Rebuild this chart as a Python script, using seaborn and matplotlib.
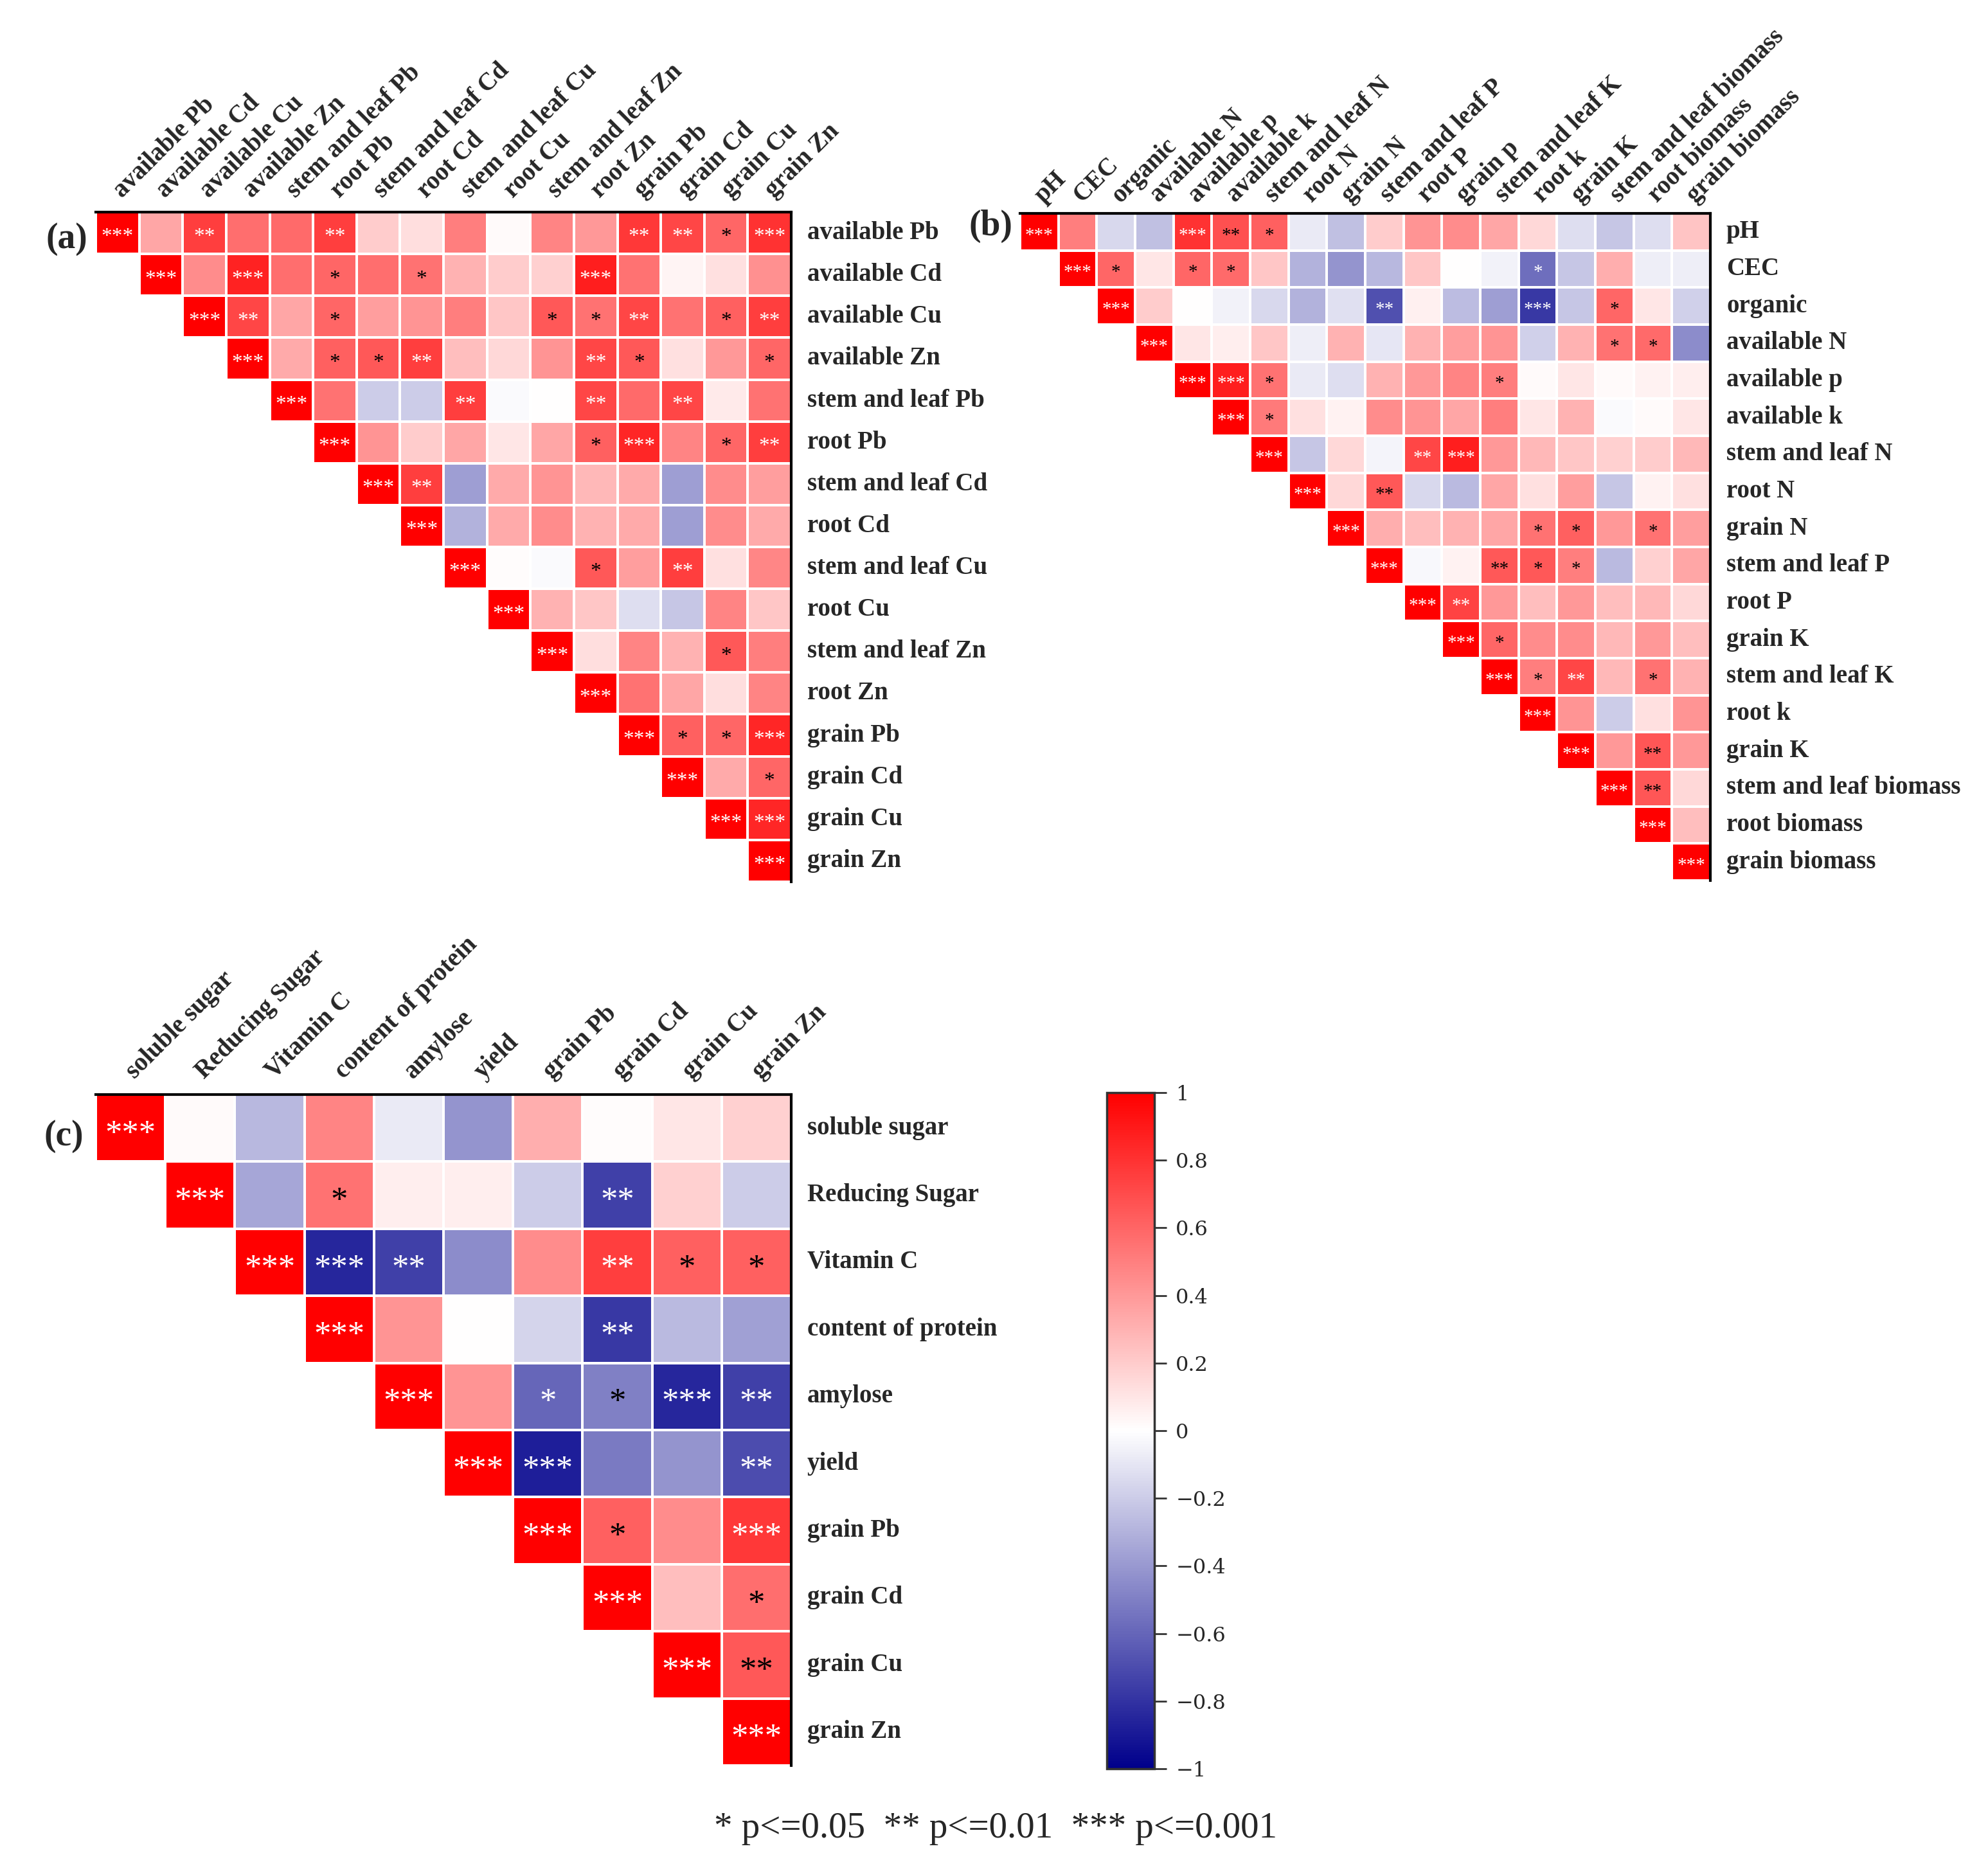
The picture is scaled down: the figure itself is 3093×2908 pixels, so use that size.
import numpy as np
import pandas as pd
import matplotlib
matplotlib.use('Agg')
import matplotlib.pyplot as plt
import matplotlib.transforms as mtransforms
from matplotlib.colors import LinearSegmentedColormap
import seaborn as sns

sns.set_style('white')
plt.rcParams['font.family'] = ['Liberation Serif', 'DejaVu Serif']

# ---- panel (a): heavy metals in soil and plant parts ----
labels_a = ['available Pb', 'available Cd', 'available Cu', 'available Zn',
            'stem and leaf Pb', 'root Pb', 'stem and leaf Cd', 'root Cd',
            'stem and leaf Cu', 'root Cu', 'stem and leaf Zn', 'root Zn',
            'grain Pb', 'grain Cd', 'grain Cu', 'grain Zn']
# upper triangle, each row starts at the diagonal
r_a = [
    [1, 0.35, 0.75, 0.57, 0.58, 0.75, 0.2, 0.13, 0.5, 0.02, 0.48, 0.4, 0.78, 0.72, 0.6, 0.8],
    [1, 0.45, 0.86, 0.57, 0.6, 0.57, 0.55, 0.3, 0.2, 0.18, 0.88, 0.55, 0.04, 0.12, 0.43],
    [1, 0.72, 0.35, 0.6, 0.38, 0.42, 0.5, 0.22, 0.65, 0.55, 0.72, 0.55, 0.62, 0.75],
    [1, 0.33, 0.62, 0.65, 0.75, 0.25, 0.15, 0.42, 0.72, 0.65, 0.12, 0.4, 0.6],
    [1, 0.55, -0.2, -0.2, 0.75, -0.02, 0.0, 0.72, 0.58, 0.72, 0.08, 0.55],
    [1, 0.42, 0.2, 0.35, 0.1, 0.35, 0.62, 0.85, 0.48, 0.6, 0.75],
    [1, 0.75, -0.38, 0.33, 0.42, 0.28, 0.33, -0.38, 0.45, 0.38],
    [1, -0.3, 0.33, 0.45, 0.3, 0.33, -0.38, 0.45, 0.33],
    [1, 0.01, -0.02, 0.65, 0.38, 0.75, 0.12, 0.47],
    [1, 0.3, 0.22, -0.13, -0.22, 0.48, 0.22],
    [1, 0.13, 0.48, 0.3, 0.65, 0.5],
    [1, 0.55, 0.35, 0.13, 0.48],
    [1, 0.62, 0.6, 0.85],
    [1, 0.33, 0.6],
    [1, 0.85],
    [1],
]
s_a = [
    ['***', '', '**', '', '', '**', '', '', '', '', '', '', '**', '**', '*', '***'],
    ['***', '', '***', '', '*', '', '*', '', '', '', '***', '', '', '', ''],
    ['***', '**', '', '*', '', '', '', '', '*', '*', '**', '', '*', '**'],
    ['***', '', '*', '*', '**', '', '', '', '**', '*', '', '', '*'],
    ['***', '', '', '', '**', '', '', '**', '', '**', '', ''],
    ['***', '', '', '', '', '', '*', '***', '', '*', '**'],
    ['***', '**', '', '', '', '', '', '', '', ''],
    ['***', '', '', '', '', '', '', '', ''],
    ['***', '', '', '*', '', '**', '', ''],
    ['***', '', '', '', '', '', ''],
    ['***', '', '', '', '*', ''],
    ['***', '', '', '', ''],
    ['***', '*', '*', '***'],
    ['***', '', '*'],
    ['***', '***'],
    ['***'],
]

# ---- panel (b): soil properties and nutrients ----
cols_b = ['pH', 'CEC', 'organic', 'available N', 'available p', 'available k',
          'stem and leaf N', 'root N', 'grain N', 'stem and leaf P', 'root P',
          'grain p', 'stem and leaf K', 'root k', 'grain K',
          'stem and leaf biomass', 'root biomass', 'grain biomass']
rows_b = ['pH', 'CEC', 'organic', 'available N', 'available p', 'available k',
          'stem and leaf N', 'root N', 'grain N', 'stem and leaf P', 'root P',
          'grain K', 'stem and leaf K', 'root k', 'grain K',
          'stem and leaf biomass', 'root biomass', 'grain biomass']
r_b = [
    [1, 0.5, -0.15, -0.25, 0.8, 0.68, 0.62, -0.08, -0.25, 0.2, 0.42, 0.45, 0.35, 0.15, -0.13, -0.22, -0.13, 0.23],
    [1, 0.6, 0.1, 0.6, 0.58, 0.22, -0.3, -0.42, -0.28, 0.22, 0.0, -0.05, -0.57, -0.22, 0.32, -0.07, -0.07],
    [1, 0.2, 0.0, -0.05, -0.15, -0.3, -0.12, -0.68, 0.06, -0.26, -0.38, -0.78, -0.22, 0.6, 0.1, -0.18],
    [1, 0.1, 0.07, 0.22, -0.07, 0.3, -0.1, 0.3, 0.38, 0.42, -0.18, 0.3, 0.55, 0.58, -0.45],
    [1, 0.88, 0.55, -0.08, -0.13, 0.3, 0.4, 0.48, 0.5, 0.02, 0.1, 0.02, 0.05, 0.07],
    [1, 0.52, 0.12, 0.05, 0.45, 0.42, 0.35, 0.5, 0.1, 0.3, -0.02, 0.02, 0.1],
    [1, -0.22, 0.15, -0.04, 0.72, 0.88, 0.4, 0.28, 0.22, 0.18, 0.2, 0.28],
    [1, 0.15, 0.65, -0.15, -0.27, 0.35, 0.12, 0.38, -0.22, 0.05, 0.12],
    [1, 0.32, 0.25, 0.3, 0.35, 0.55, 0.62, 0.4, 0.55, 0.38],
    [1, -0.03, 0.05, 0.65, 0.65, 0.5, -0.27, 0.18, 0.35],
    [1, 0.74, 0.4, 0.25, 0.4, 0.25, 0.28, 0.15],
    [1, 0.6, 0.45, 0.45, 0.28, 0.4, 0.25],
    [1, 0.5, 0.72, 0.28, 0.55, 0.3],
    [1, 0.42, -0.2, 0.12, 0.42],
    [1, 0.4, 0.66, 0.4],
    [1, 0.66, 0.15],
    [1, 0.25],
    [1],
]
s_b = [
    ['***', '', '', '', '***', '**', '*', '', '', '', '', '', '', '', '', '', '', ''],
    ['***', '*', '', '*', '*', '', '', '', '', '', '', '', '*', '', '', '', ''],
    ['***', '', '', '', '', '', '', '**', '', '', '', '***', '', '*', '', ''],
    ['***', '', '', '', '', '', '', '', '', '', '', '', '*', '*', ''],
    ['***', '***', '*', '', '', '', '', '', '*', '', '', '', '', ''],
    ['***', '*', '', '', '', '', '', '', '', '', '', '', ''],
    ['***', '', '', '', '**', '***', '', '', '', '', '', ''],
    ['***', '', '**', '', '', '', '', '', '', '', ''],
    ['***', '', '', '', '', '*', '*', '', '*', ''],
    ['***', '', '', '**', '*', '*', '', '', ''],
    ['***', '**', '', '', '', '', '', ''],
    ['***', '*', '', '', '', '', ''],
    ['***', '*', '**', '', '*', ''],
    ['***', '', '', '', ''],
    ['***', '', '**', ''],
    ['***', '**', ''],
    ['***', ''],
    ['***'],
]

# ---- panel (c): grain quality, yield and grain metals ----
labels_c = ['soluble sugar', 'Reducing Sugar', 'Vitamin C', 'content of protein',
            'amylose', 'yield', 'grain Pb', 'grain Cd', 'grain Cu', 'grain Zn']
r_c = [
    [1, 0.02, -0.28, 0.48, -0.08, -0.42, 0.32, 0.01, 0.1, 0.18],
    [1, -0.35, 0.55, 0.07, 0.07, -0.2, -0.75, 0.18, -0.2],
    [1, -0.85, -0.75, -0.45, 0.45, 0.75, 0.62, 0.62],
    [1, 0.42, 0.0, -0.17, -0.78, -0.27, -0.37],
    [1, 0.42, -0.6, -0.5, -0.85, -0.75],
    [1, -0.88, -0.52, -0.42, -0.7],
    [1, 0.62, 0.45, 0.78],
    [1, 0.25, 0.57],
    [1, 0.65],
    [1],
]
s_c = [
    ['***', '', '', '', '', '', '', '', '', ''],
    ['***', '', '*', '', '', '', '**', '', ''],
    ['***', '***', '**', '', '', '**', '*', '*'],
    ['***', '', '', '', '**', '', ''],
    ['***', '', '*', '*', '***', '**'],
    ['***', '***', '', '', '**'],
    ['***', '*', '', '***'],
    ['***', '', '*'],
    ['***', '**'],
    ['***'],
]

cbar_ticks = [1, 0.8, 0.6, 0.4, 0.2, 0, -0.2, -0.4, -0.6, -0.8, -1]
cbar_labels = ['1', '0.8', '0.6', '0.4', '0.2', '0', '\u22120.2', '\u22120.4',
               '\u22120.6', '\u22120.8', '\u22121']
legend_text = '* p<=0.05  ** p<=0.01  *** p<=0.001'

cmap = LinearSegmentedColormap.from_list('rwb', ['#00008b', '#ffffff', '#ff0000'])

W, H = 3093, 2908
fig = plt.figure(figsize=(W / 100, H / 100), dpi=100)


def rect(x0, y0, x1, y1):
    return [x0 / W, 1 - y1 / H, (x1 - x0) / W, (y1 - y0) / H]


def upper_frame(rows, row_names, col_names):
    n = len(rows)
    full = np.full((n, n), np.nan)
    for i, row in enumerate(rows):
        full[i, i:] = row
    return pd.DataFrame(full, index=row_names, columns=col_names)


def upper_stars(rows):
    n = len(rows)
    full = [[''] * n for _ in range(n)]
    for i, row in enumerate(rows):
        for k, s in enumerate(row):
            full[i][i + k] = s
    return full


def draw_panel(ax, rows, stars, row_names, col_names, star_size, xpad, cbar_ax=None):
    df = upper_frame(rows, row_names, col_names)
    mask = np.isnan(df.values)
    sns.heatmap(df, mask=mask, cmap=cmap, vmin=-1, vmax=1, ax=ax,
                linewidths=1.5, linecolor='white',
                cbar=cbar_ax is not None, cbar_ax=cbar_ax)
    st = upper_stars(stars)
    off = mtransforms.offset_copy(ax.transData, fig=fig, y=-0.2 * star_size, units='points')
    for i in range(len(st)):
        for j in range(len(st)):
            s = st[i][j]
            if not s:
                continue
            v = df.values[i, j]
            col = 'white' if (v > 0.69 or v < -0.53) else 'black'
            ax.text(j + 0.5, i + 0.5, s, ha='center', va='center', color=col,
                    fontsize=star_size, transform=off)
    ax.xaxis.tick_top()
    ax.yaxis.tick_right()
    ax.set_xticklabels(col_names, rotation=45, ha='left', va='center',
                       rotation_mode='anchor', fontsize=28, fontweight='bold')
    ax.set_yticklabels(row_names, rotation=0, ha='left', va='center',
                       fontsize=28, fontweight='bold')
    ax.tick_params(axis='x', length=0, pad=xpad)
    ax.tick_params(axis='y', length=0, pad=18)
    ax.set_xlabel('')
    ax.set_ylabel('')
    for side in ['top', 'right']:
        ax.spines[side].set_visible(True)
        ax.spines[side].set_color('black')
        ax.spines[side].set_linewidth(3)
    for side in ['left', 'bottom']:
        ax.spines[side].set_visible(False)


ax_a = fig.add_axes(rect(149, 330, 1231, 1372))
ax_b = fig.add_axes(rect(1587, 332, 2661, 1370))
ax_c = fig.add_axes(rect(149, 1703, 1231, 2747))
cax = fig.add_axes(rect(1722, 1700, 1796, 2752))

draw_panel(ax_a, r_a, s_a, labels_a, labels_a, 24, 20)
draw_panel(ax_b, r_b, s_b, rows_b, cols_b, 21, 16)
draw_panel(ax_c, r_c, s_c, labels_c, labels_c, 38, 22, cbar_ax=cax)

cbar = ax_c.collections[0].colorbar
cbar.set_ticks(cbar_ticks)
cbar.set_ticklabels(cbar_labels)
cbar.outline.set_visible(True)
cbar.outline.set_edgecolor('#333333')
cbar.outline.set_linewidth(2.5)
cax.tick_params(length=14, width=2, color='#333333', pad=10, labelsize=23)
for t in cax.get_yticklabels():
    t.set_fontfamily('DejaVu Serif')

fig.text(104 / W, 1 - 372 / H, '(a)', fontsize=40, fontweight='bold', ha='center', va='center')
fig.text(1542 / W, 1 - 352 / H, '(b)', fontsize=40, fontweight='bold', ha='center', va='center')
fig.text(99 / W, 1 - 1768 / H, '(c)', fontsize=40, fontweight='bold', ha='center', va='center')
fig.text(1549 / W, 1 - 2845 / H, legend_text, fontsize=41, ha='center', va='center')

fig.savefig('out.png', dpi=100, facecolor='white')
